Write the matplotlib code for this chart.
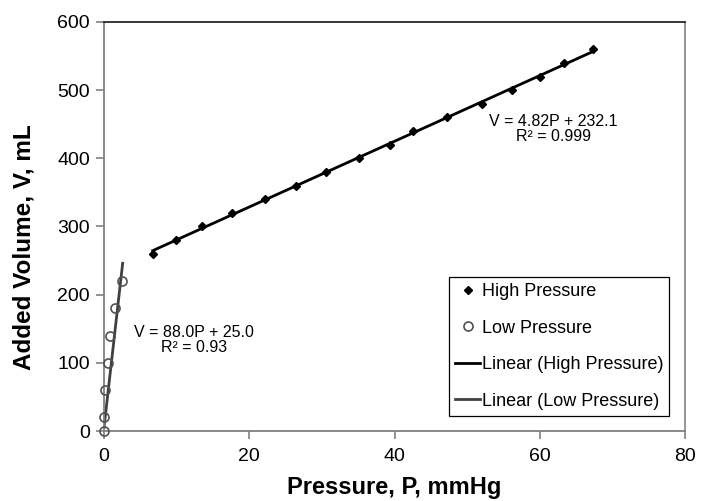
import numpy as np
import matplotlib
matplotlib.use("Agg")
import matplotlib.pyplot as plt

plt.rcParams['font.family'] = ['Liberation Sans', 'DejaVu Sans']

# High pressure data
high_P = [6.7, 9.9, 13.5, 17.6, 22.1, 26.4, 30.6, 35.1, 39.4, 42.5, 47.2, 52.1, 56.2, 60.1, 63.4, 67.4]
high_V = [260, 280, 300, 320, 340, 360, 380, 400, 420, 440, 460, 480, 500, 520, 540, 560]
# Low pressure data
low_P = [0.0, 0.05, 0.18, 0.55, 0.83, 1.47, 2.48]
low_V = [0, 20, 60, 100, 140, 180, 220]
# Low pressure trendline as drawn in the picture (end points)
low_fit_P = [0.0, 2.57]
low_fit_V = [5, 246]

x_ticks = [0, 20, 40, 60, 80]
y_ticks = [0, 100, 200, 300, 400, 500, 600]

W, H = 701, 501
fig = plt.figure(figsize=(W/100, H/100), dpi=100)
ax = fig.add_axes([104/W, 1-431/H, 581/W, 409/H])

# trendlines
hp = np.polyfit(high_P, high_V, 1)
xh = np.array([min(high_P), max(high_P)])
ax.plot(xh, np.polyval(hp, xh), color='black', lw=2, label='Linear (High Pressure)', zorder=2)
ax.plot(low_fit_P, low_fit_V, color='#404040', lw=2, label='Linear (Low Pressure)', zorder=2)

ax.plot(high_P, high_V, linestyle='none', marker='D', ms=4.5, color='black', label='High Pressure', zorder=3)
ax.plot(low_P, low_V, linestyle='none', marker='o', ms=6.5, mfc='none', mec='#505050', mew=1.2,
        label='Low Pressure', zorder=3, clip_on=False)

ax.set_xlim(0, 80)
ax.set_ylim(0, 600)
ax.set_xticks(x_ticks)
ax.set_yticks(y_ticks)
ax.spines['top'].set_color('#262626')
ax.spines['right'].set_color('#8c8c8c')
for s in ['left', 'bottom']:
    ax.spines[s].set_color('#808080')
for s in ax.spines.values():
    s.set_linewidth(1.3)
ax.tick_params(axis='both', colors='#808080', labelcolor='black', labelsize=14, length=6, width=1.2,
               direction='out')
ax.tick_params(axis='x', pad=6)
ax.tick_params(axis='y', pad=4)

fig.text((104+685)/2/W, 1-494/H, 'Pressure, P, mmHg', fontsize=17, fontweight='bold',
         ha='center', va='baseline')
fig.text(24/W, 1-247.5/H, 'Added Volume, V, mL', fontsize=17.5, fontweight='bold',
         ha='center', va='center', rotation=90)

fig.text(553/W, 1-129/H, 'V = 4.82P + 232.1\nR² = 0.999', ha='center', va='center', fontsize=11.5,
         linespacing=1.05)
fig.text(194/W, 1-340/H, 'V = 88.0P + 25.0\nR² = 0.93', ha='center', va='center', fontsize=11.5,
         linespacing=1.05)

handles, labels = ax.get_legend_handles_labels()
order = [2, 3, 0, 1]
leg = ax.legend([handles[i] for i in order], [labels[i] for i in order],
                loc='upper left', bbox_to_anchor=(449/W, 1-277/H), bbox_transform=fig.transFigure,
                borderaxespad=0, fontsize=13,
                frameon=True, fancybox=False, edgecolor='black', framealpha=1,
                labelspacing=1.08, handlelength=1.35, handletextpad=0.1, borderpad=0.35)
leg.get_frame().set_linewidth(0.9)

fig.savefig('out.png', dpi=100)
